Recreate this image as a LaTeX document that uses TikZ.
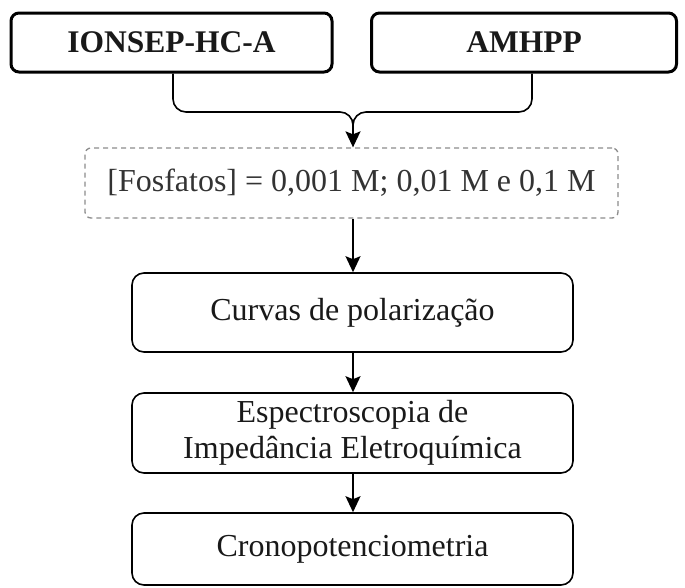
\documentclass[tikz,border=0pt]{standalone}
\usepackage{fontspec}
\setmainfont{Liberation Serif}
\usetikzlibrary{arrows.meta}
\begin{document}
\begin{tikzpicture}[x=1pt,y=-1pt,
  every node/.style={font=\fontsize{32}{38}\selectfont, text=black!90, align=center, inner sep=0pt},
  topbox/.style={draw, line width=3pt, rounded corners=8pt, font=\fontsize{31.5}{38}\selectfont\bfseries},
  dashbox/.style={draw=black!45, dashed, dash pattern=on 5pt off 4pt, line width=1.3pt, rounded corners=6pt, text=black!80},
  stepbox/.style={draw, line width=1.6pt, rounded corners=12pt, minimum width=441pt},
  conn/.style={line width=1.6pt, -{Stealth[length=16pt,width=15pt,inset=3pt]}}]
\useasboundingbox (0,0) rectangle (685,587);
\node[topbox, minimum width=321pt, minimum height=59pt] (ion) at (171.5,42.5) {IONSEP-HC-A};
\node[topbox, minimum width=305pt, minimum height=59pt] (amh) at (524,42.5) {AMHPP};
\node[dashbox, minimum width=533pt, minimum height=70pt] (fos) at (351.5,183) {[Fosfatos] = 0,001 M; 0,01 M e 0,1 M};
\node[stepbox, minimum height=79pt] (cur) at (352.5,312.5) {Curvas de polarização};
\node[stepbox, minimum height=80pt] (eis) at (352.5,433) {Espectroscopia de\\[-2pt]Impedância Eletroquímica};
\node[stepbox, minimum height=72pt] (cro) at (352.5,549) {Cronopotenciometria};
\coordinate (ionb) at ([xshift=1.5pt]ion.south);
\coordinate (amhb) at ([xshift=8pt]amh.south);
\coordinate (mid) at (353,112);
\draw[line width=1.6pt, rounded corners=13pt] (ionb) |- (mid) -- (353,130);
\draw[line width=1.6pt, rounded corners=13pt] (amhb) |- (mid) -- (353,130);
\draw[conn] (353,125) -- (fos.north -| 353,0);
\draw[conn] (fos.south -| 353,0) -- (cur.north -| 353,0);
\draw[conn] (cur.south -| 353,0) -- (eis.north -| 353,0);
\draw[conn] (eis.south -| 353,0) -- (cro.north -| 353,0);
\end{tikzpicture}
\end{document}
